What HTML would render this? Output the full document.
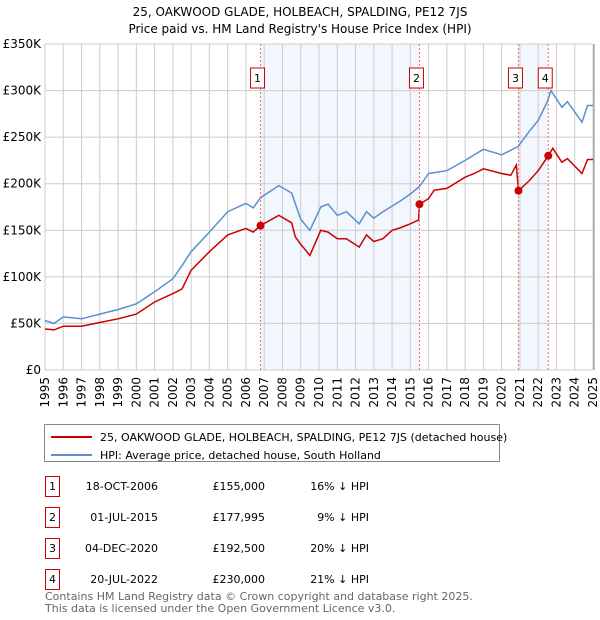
<!DOCTYPE html>
<html><head><meta charset="utf-8"><style>
body{margin:0;background:#fff;}
svg{display:block;font-family:"DejaVu Sans","Liberation Sans",sans-serif;}
</style></head><body>
<svg id="chart" width="600" height="620" viewBox="0 0 600 620" xmlns="http://www.w3.org/2000/svg">
<text x="300" y="16" text-anchor="middle" font-size="12">25, OAKWOOD GLADE, HOLBEACH, SPALDING, PE12 7JS</text>
<text x="300" y="33" text-anchor="middle" font-size="12">Price paid vs. HM Land Registry's House Price Index (HPI)</text>
<g id="shade"></g><g id="grid"></g><g id="series"></g><g id="marks"></g><g id="axes"></g>
<g>
<rect x="44.5" y="424.5" width="455" height="37" fill="#fff" stroke="#888"/>
<line x1="51" y1="437" x2="92" y2="437" stroke="#cc0000" stroke-width="2"/>
<text x="100" y="441" font-size="11">25, OAKWOOD GLADE, HOLBEACH, SPALDING, PE12 7JS (detached house)</text>
<line x1="51" y1="455" x2="92" y2="455" stroke="#5b8fd0" stroke-width="2"/>
<text x="100" y="459" font-size="11">HPI: Average price, detached house, South Holland</text>
</g>
<g id="table" font-size="11"></g>
<text x="45" y="600" font-size="11" fill="#666">Contains HM Land Registry data © Crown copyright and database right 2025.</text>
<text x="45" y="612" font-size="11" fill="#666">This data is licensed under the Open Government Licence v3.0.</text>
</svg>
<script>
const hpiYears=[1995,1995.5,1996,1997,1998,1999,2000,2001,2002,2002.5,2003,2004,2005,2006,2006.4,2006.8,2007.8,2008.5,2009,2009.5,2010.1,2010.5,2011,2011.5,2012.2,2012.6,2013,2013.5,2014,2014.5,2015,2015.5,2016,2017,2018,2019,2020,2020.9,2021.5,2022,2022.5,2022.7,2023.3,2023.6,2024.4,2024.7,2025];
const hpiValues=[53,50,57,55,60,65,71,84,98,112,127,148,170,179,174,185,198,190,162,150,175,178,166,170,157,170,163,170,176,182,189,197,211,214,225,237,231,240,256,268,288,300,282,288,266,284,284];
const priceYears=[1995,1995.5,1996,1997,1998,1999,2000,2001,2002,2002.5,2003,2004,2005,2006,2006.4,2006.8,2007.8,2008.5,2008.7,2009,2009.5,2010.1,2010.5,2011,2011.5,2012.2,2012.6,2013,2013.5,2014,2014.5,2015,2015.45,2015.5,2016,2016.3,2017,2018,2018.5,2019,2020,2020.5,2020.8,2020.92,2021.5,2022,2022.55,2022.8,2023.3,2023.6,2024.4,2024.7,2025];
const priceValues=[44,43,47,47,51,55,60,73,82,87,107,127,145,152,148,155,166,158,143,135,123,150,148,141,141,132,145,138,141,150,153,157,161,178,184,193,195,207,211,216,211,209,220,192.5,203,214,230,238,223,227,211,226,226];
const saleLabels=["1","2","3","4"];
const saleYears=[2006.8,2015.5,2020.92,2022.55];
const saleValues=[155,177.995,192.5,230];
const saleDates=["18-OCT-2006","01-JUL-2015","04-DEC-2020","20-JUL-2022"];
const salePrices=["£155,000","£177,995","£192,500","£230,000"];
const saleDiffs=["16% ↓ HPI","9% ↓ HPI","20% ↓ HPI","21% ↓ HPI"];
const yTicks=[0,50,100,150,200,250,300,350];
const yTickLabels=["£0","£50K","£100K","£150K","£200K","£250K","£300K","£350K"];
const xTicks=[1995,1996,1997,1998,1999,2000,2001,2002,2003,2004,2005,2006,2007,2008,2009,2010,2011,2012,2013,2014,2015,2016,2017,2018,2019,2020,2021,2022,2023,2024,2025];

const NS="http://www.w3.org/2000/svg";
const X0=45,X1=593,Y0=370,Y1=44;
const xs=y=>X0+(y-1995)/30*(X1-X0);
const ys=v=>Y0-v/350*(Y0-Y1);
function mk(parent,tag,attrs){const e=document.createElementNS(NS,tag);for(const k in attrs)e.setAttribute(k,attrs[k]);document.getElementById(parent).appendChild(e);return e;}

for(let i=0;i<saleYears.length;i+=2){
 const r=mk('shade','rect',{x:xs(saleYears[i]),y:Y1,width:xs(saleYears[i+1])-xs(saleYears[i]),height:Y0-Y1,fill:'#f2f6fd'});
 
 
}
yTicks.forEach((t,i)=>{
 const l=mk('grid','line',{x1:X0,x2:X1,y1:ys(t),y2:ys(t),stroke:'#cccccc'});
 
 
 const tx=mk('axes','text',{x:X0-4,y:ys(t)+4,'text-anchor':'end','font-size':12});
 tx.textContent=yTickLabels[i];
 
 
});
xTicks.forEach(t=>{
 const l=mk('grid','line',{x1:xs(t),x2:xs(t),y1:Y1,y2:Y0,stroke:'#cccccc'});
 
 
 const tx=mk('axes','text',{x:0,y:0,'font-size':12,'text-anchor':'end',transform:`translate(${xs(t)+4},${Y0+7}) rotate(-90)`});
 tx.textContent=t;
 
 
});
function path(xa,va){return xa.map((x,i)=>(i?'L':'M')+xs(x).toFixed(1)+','+ys(va[i]).toFixed(1)).join('');}
const hp=mk('series','path',{d:path(hpiYears,hpiValues),fill:'none',stroke:'#5b8fd0','stroke-width':1.5});


const pp=mk('series','path',{d:path(priceYears,priceValues),fill:'none',stroke:'#cc0000','stroke-width':1.5});


saleYears.forEach((y,i)=>{
 const l=mk('marks','line',{x1:xs(y),x2:xs(y),y1:Y1,y2:Y0,stroke:'#ff6666','stroke-dasharray':'2,2'});
 
 
 const bx=xs(y)-10;
 const b=mk('marks','rect',{x:bx,y:68,width:14,height:20,fill:'#fff',stroke:'#cc0000'});
 
 
 const t=mk('marks','text',{x:bx+7,y:82,'text-anchor':'middle','font-size':11});
 t.textContent=saleLabels[i];
 
 
 const c=mk('marks','circle',{cx:xs(y),cy:ys(saleValues[i]),r:4,fill:'#cc0000'});
 
 
 const ry=476+i*31;
 const tb=mk('table','rect',{x:45.5,y:ry+0.5,width:14,height:20,fill:'#fff',stroke:'#cc0000'});
 
 
 const cols=[[52.5,saleLabels[i],'middle'],[158,saleDates[i],'end'],[265,salePrices[i],'end'],[369,saleDiffs[i],'end']];
 cols.forEach(([x,s,a],j)=>{
  const te=mk('table','text',{x:x,y:ry+14,'text-anchor':a});
  te.textContent=s;
  
  
 });
});
const ax=mk('axes','line',{x1:X1+1,x2:X1+1,y1:Y1,y2:Y0,stroke:'#888'});


</script>
</body></html>
